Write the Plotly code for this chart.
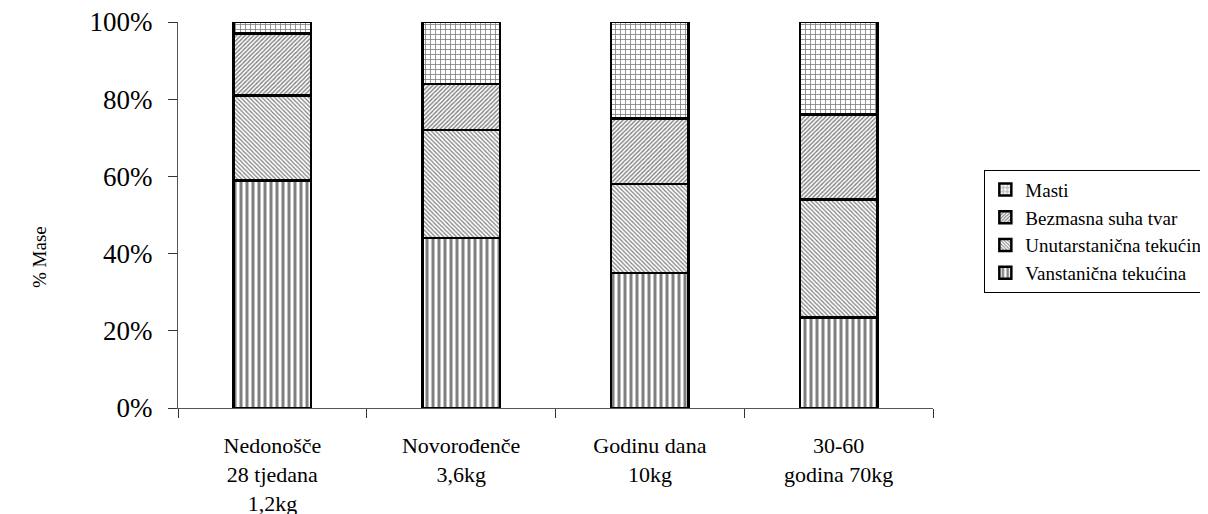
import plotly.graph_objects as go

kategorije = ["Nedonošče<br>28 tjedana<br>1,2kg", "Novorođenče<br>3,6kg",
              "Godinu dana<br>10kg", "30-60<br>godina 70kg"]
vanstanicna = [59, 44, 35, 23.5]
unutarstanicna = [22, 28, 23, 30.5]
bezmasna = [16, 12, 17, 22]
masti = [3, 16, 25, 24]
y_tickovi = [0, 20, 40, 60, 80, 100]
y_oznake = ["0%", "20%", "40%", "60%", "80%", "100%"]

font = "Liberation Serif"

serije = [
    ("Vanstanična tekućina", vanstanicna, "|", 6, 0.5),
    ("Unutarstanična tekućina", unutarstanicna, "\\", 3, 0.4),
    ("Bezmasna suha tvar", bezmasna, "/", 3, 0.45),
    ("Masti", masti, "+", 5, 0.3),
]

fig = go.Figure()
for name, vals, shape, size, sol in serije:
    fig.add_trace(go.Bar(
        x=kategorije, y=vals, name=name,
        marker=dict(color="white", line=dict(color="black", width=2.5),
                    pattern=dict(shape=shape, fgcolor="black", bgcolor="white",
                                 size=size, solidity=sol)),
    ))

fig.update_layout(
    barmode="stack", bargap=0.59,
    width=1208, height=514,
    margin=dict(l=170, r=283, t=14, b=114, autoexpand=False),
    plot_bgcolor="white", paper_bgcolor="white",
    font=dict(family=font, color="black"),
    legend=dict(x=1.068, y=0.458, xanchor="left", yanchor="middle",
                traceorder="reversed", bordercolor="black", borderwidth=1,
                itemwidth=30,
                font=dict(size=19, family=font, color="black"), tracegroupgap=0),
    yaxis=dict(range=[0, 100], tickvals=y_tickovi, ticktext=y_oznake,
               tickfont=dict(size=27, family=font, color="black"),
               showgrid=False, zeroline=False,
               showline=True, linecolor="#555", linewidth=1,
               ticks="outside", ticklen=9, tickcolor="#333", ticklabelstandoff=10,
               ticklabeloverflow="allow", automargin=False),
    xaxis=dict(tickfont=dict(size=22, family=font, color="black"), showline=True,
               linecolor="#555", linewidth=1, ticks="outside", ticklen=9,
               tickcolor="#333", tickson="boundaries", showgrid=False,
               ticklabelstandoff=18, ticklabeloverflow="allow", automargin=False),
    # druga os samo za tickove koji prelaze os
    yaxis2=dict(overlaying="y", range=[0, 100], tickvals=y_tickovi,
                showticklabels=False, ticks="inside", ticklen=9, tickcolor="#333",
                showgrid=False, zeroline=False, showline=False, automargin=False),
    xaxis2=dict(overlaying="x", range=[-0.5, 3.5], tickvals=[-0.5, 0.5, 1.5, 2.5, 3.5],
                showticklabels=False, ticks="inside", ticklen=9, tickcolor="#333",
                showgrid=False, zeroline=False, showline=False, automargin=False,
                side="bottom"),
)
fig.add_annotation(text="% Mase", textangle=-90, xref="paper", yref="paper",
                   x=-0.2, y=0.39, showarrow=False,
                   font=dict(size=19, family=font, color="black"))

fig.write_html("out.html")
